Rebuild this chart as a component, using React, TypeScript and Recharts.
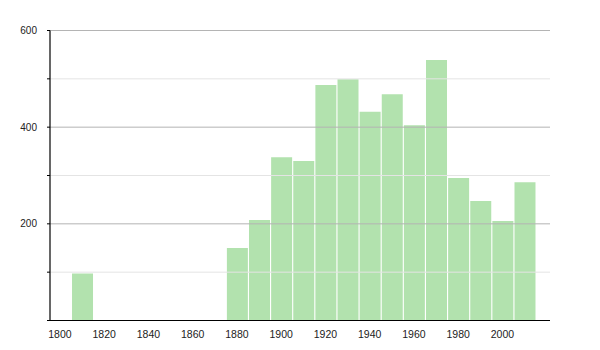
import React from 'react';
import {
  BarChart,
  Bar,
  XAxis,
  YAxis,
  ReferenceLine,
} from 'recharts';

const years = [1810, 1880, 1890, 1900, 1910, 1920, 1930, 1940, 1950, 1960, 1970, 1980, 1990, 2000, 2010];
const population = [97, 150, 208, 338, 330, 487, 499, 432, 468, 404, 539, 295, 247, 206, 286];

const xTicks = [1800, 1820, 1840, 1860, 1880, 1900, 1920, 1940, 1960, 1980, 2000];
const yTicks = [0, 100, 200, 300, 400, 500, 600];
const yLabels = [200, 400, 600];
const gridMajor = [200, 400, 600];
const gridMinor = [100, 300, 500];

const data = years.map((year, i) => ({ year, value: population[i] }));

const font = { fontFamily: '"Liberation Sans", Arial, sans-serif', fill: '#222' };

export default function App() {
  return (
    <div style={{ width: 600, height: 350 }}>
      <BarChart
        width={600}
        height={350}
        data={data}
        margin={{ top: 22.5, right: 58, left: 0, bottom: 7.5 }}
      >
        {gridMinor.map((v) => (
          <ReferenceLine key={'mi' + v} y={v} stroke="#e4e4e4" strokeWidth={1} />
        ))}
        {gridMajor.map((v) => (
          <ReferenceLine key={'ma' + v} y={v} stroke="#b4b4b4" strokeWidth={1} />
        ))}
        <XAxis
          dataKey="year"
          type="number"
          domain={[1795.5, 2021.5]}
          ticks={xTicks}
          allowDataOverflow
          height={30}
          tickLine={false}
          tickMargin={4}
          axisLine={{ stroke: '#000', strokeWidth: 1.2 }}
          tick={{ ...font, fontSize: 10.5 }}
        />
        <YAxis
          type="number"
          domain={[0, 600]}
          ticks={yTicks}
          width={42}
          tickSize={3}
          tickMargin={10}
          tickLine={{ stroke: '#000' }}
          axisLine={{ stroke: '#000', strokeWidth: 1.2 }}
          tickFormatter={(v: number) => (yLabels.includes(v) ? String(v) : '')}
          tick={{ ...font, fontSize: 10 }}
        />
        <Bar
          dataKey="value"
          fill="#b2e2ae"
          barSize={21}
          isAnimationActive={false}
        />
      </BarChart>
    </div>
  );
}
